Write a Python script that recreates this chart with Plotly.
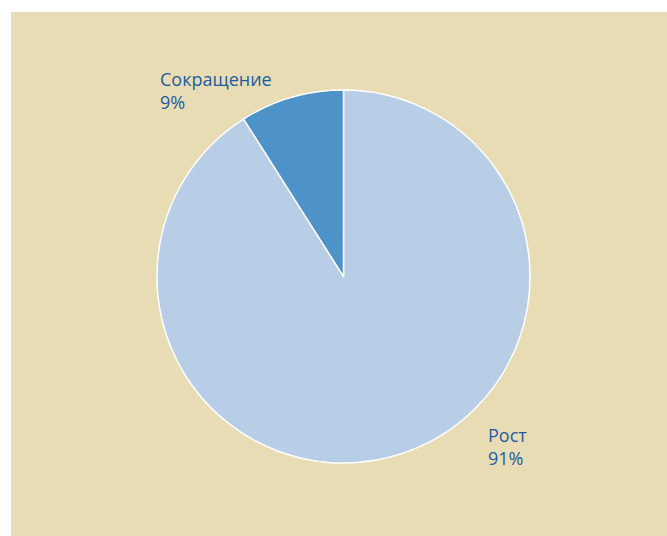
import plotly.graph_objects as go

# Share of respondents by direction of change
labels = ["Рост", "Сокращение"]
values = [91, 9]
colors = ["#b8cee6", "#4d92c8"]

W, H = 667, 536
ML, MT = 11, 12
PW, PH = W - ML, H - MT


def px_x(x):
    return (x - ML) / PW


def px_y(y):
    return (H - y) / PH


fig = go.Figure(
    go.Pie(
        labels=labels,
        values=values,
        sort=False,
        direction="clockwise",
        rotation=0,
        marker=dict(colors=colors, line=dict(color="white", width=1.5)),
        textinfo="none",
        hoverinfo="label+percent",
        showlegend=False,
        domain=dict(x=[px_x(157), px_x(530)], y=[px_y(463), px_y(90)]),
    )
)

total = sum(values)
label_pos = {"Сокращение": (158, 65), "Рост": (486, 421)}
for lab, val in zip(labels, values):
    x, y = label_pos[lab]
    fig.add_annotation(
        x=px_x(x), y=px_y(y), xref="paper", yref="paper",
        xanchor="left", yanchor="top", align="left", showarrow=False,
        text=f"{lab}<br>{round(val / total * 100)}%",
        font=dict(family="Open Sans", size=18, color="#1f5c9e"),
    )

fig.add_shape(
    type="rect", xref="paper", yref="paper", x0=0, x1=1, y0=0, y1=1,
    fillcolor="#e8dcb5", line=dict(width=0), layer="below",
)

fig.update_layout(
    width=W, height=H,
    margin=dict(l=ML, r=0, t=MT, b=0),
    paper_bgcolor="white",
    plot_bgcolor="#e8dcb5",
)

fig.write_html("out.html")
